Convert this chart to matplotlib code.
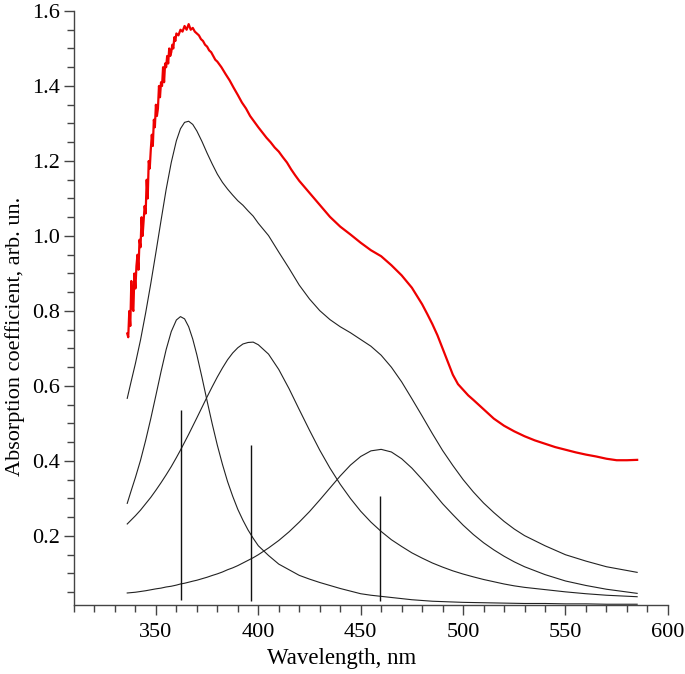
import numpy as np
import matplotlib
matplotlib.use("Agg")
import matplotlib.pyplot as plt
from matplotlib.ticker import MultipleLocator

# measured absorption spectrum (red)
red_nm = [336.0, 336.5, 337.0, 337.5, 338.0, 338.5, 339.0, 339.5, 340.0, 340.5,
          341.0, 341.5, 342.0, 342.5, 343.0, 343.5, 344.0, 344.5, 345.0, 345.5,
          346.0, 346.5, 347.0, 347.5, 348.0, 348.5, 349.0, 349.5, 350.0, 350.5,
          351.0, 351.5, 352.0, 352.5, 353.0, 353.5, 354.0, 354.5, 355.0, 355.5,
          356.0, 356.5, 357.0, 357.5, 358.0, 358.5, 359.0, 359.5, 360.0,
          361, 362, 363, 364, 365, 366, 367, 368, 369, 370,
          371, 372, 373, 374, 375, 376, 377, 378, 379, 380,
          382, 384, 386, 388, 390, 392, 394, 396, 398, 400,
          402, 404, 406, 408, 410, 412, 414, 416, 418, 420,
          425, 430, 435, 440, 445, 450, 455, 460, 465, 470,
          475, 480, 482.5, 485, 487.5, 490, 492.5, 495, 497.5, 500,
          502.5, 505, 510, 515, 520, 525, 530, 535, 540, 545,
          550, 555, 560, 565, 570, 575, 580, 585]
red_abs = [0.74, 0.73, 0.80, 0.76, 0.88, 0.81, 0.80, 0.90, 0.86, 0.92,
           0.95, 0.91, 0.99, 0.97, 1.05, 1.00, 1.04, 1.08, 1.06, 1.15,
           1.10, 1.20, 1.18, 1.23, 1.27, 1.24, 1.31, 1.29, 1.35, 1.32,
           1.34, 1.40, 1.37, 1.41, 1.40, 1.45, 1.41, 1.46, 1.45, 1.48,
           1.46, 1.50, 1.48, 1.49, 1.51, 1.50, 1.53, 1.52, 1.54,
           1.535, 1.55, 1.545, 1.56, 1.55, 1.565, 1.55, 1.555, 1.545, 1.54,
           1.535, 1.525, 1.52, 1.51, 1.505, 1.495, 1.49, 1.48, 1.47, 1.465,
           1.45, 1.432, 1.415, 1.395, 1.376, 1.356, 1.34, 1.32, 1.305, 1.29,
           1.276, 1.262, 1.25, 1.236, 1.225, 1.21, 1.196, 1.178, 1.162, 1.147,
           1.115, 1.083, 1.051, 1.025, 1.004, 0.982, 0.962, 0.946, 0.922, 0.895,
           0.862, 0.818, 0.792, 0.765, 0.735, 0.70, 0.665, 0.63, 0.605, 0.59,
           0.575, 0.563, 0.538, 0.513, 0.494, 0.479, 0.466, 0.455, 0.446, 0.437,
           0.430, 0.423, 0.417, 0.412, 0.406, 0.402, 0.402, 0.403]

# fitted components and their sum (black)
fit_nm = [336, 338, 340, 342.5, 345, 347.5, 350, 352.5, 355, 357.5,
          360, 362, 364, 366, 368, 370, 372.5, 375, 377.5, 380,
          382.5, 385, 387.5, 390, 392.5, 395, 397.5, 400, 405, 410,
          415, 420, 425, 430, 435, 440, 445, 450, 455, 460,
          465, 470, 475, 480, 485, 490, 495, 500, 505, 510,
          515, 520, 525, 530, 540, 550, 560, 570, 585]
band1 = [0.287, 0.322, 0.356, 0.402, 0.455, 0.513, 0.575, 0.638, 0.697, 0.745,
         0.776, 0.785, 0.779, 0.758, 0.725, 0.683, 0.623, 0.560, 0.499, 0.442,
         0.391, 0.345, 0.306, 0.271, 0.242, 0.216, 0.194, 0.174, 0.148, 0.125,
         0.110, 0.095, 0.085, 0.076, 0.068, 0.060, 0.053, 0.046, 0.042, 0.039,
         0.036, 0.033, 0.030, 0.028, 0.026, 0.025, 0.024, 0.023, 0.0225, 0.022,
         0.0215, 0.021, 0.0205, 0.020, 0.020, 0.019, 0.019, 0.018, 0.018]
band2 = [0.232, 0.243, 0.254, 0.269, 0.286, 0.303, 0.322, 0.342, 0.363, 0.385,
         0.409, 0.429, 0.450, 0.471, 0.493, 0.515, 0.543, 0.571, 0.598, 0.624,
         0.648, 0.670, 0.688, 0.702, 0.712, 0.716, 0.717, 0.710, 0.685, 0.644,
         0.593, 0.537, 0.482, 0.429, 0.381, 0.338, 0.300, 0.266, 0.237, 0.212,
         0.190, 0.172, 0.155, 0.141, 0.128, 0.117, 0.107, 0.0985, 0.091, 0.084,
         0.078, 0.072, 0.067, 0.063, 0.057, 0.051, 0.046, 0.042, 0.038]
band3 = [0.048, 0.049, 0.050, 0.052, 0.054, 0.0565, 0.059, 0.061, 0.064, 0.066,
         0.069, 0.072, 0.074, 0.0767, 0.0795, 0.082, 0.086, 0.090, 0.0947, 0.099,
         0.104, 0.110, 0.115, 0.121, 0.128, 0.135, 0.142, 0.150, 0.168, 0.188,
         0.211, 0.237, 0.265, 0.296, 0.328, 0.360, 0.389, 0.412, 0.427, 0.431,
         0.424, 0.406, 0.381, 0.351, 0.319, 0.286, 0.257, 0.229, 0.204, 0.182,
         0.163, 0.146, 0.131, 0.118, 0.097, 0.080, 0.068, 0.058, 0.047]
total = [0.567, 0.614, 0.660, 0.723, 0.795, 0.873, 0.956, 1.041, 1.124, 1.196,
         1.254, 1.286, 1.303, 1.306, 1.2975, 1.280, 1.252, 1.221, 1.192, 1.165,
         1.143, 1.125, 1.109, 1.094, 1.082, 1.067, 1.053, 1.034, 1.001, 0.957,
         0.914, 0.869, 0.832, 0.801, 0.777, 0.758, 0.742, 0.724, 0.706, 0.682,
         0.650, 0.611, 0.566, 0.520, 0.473, 0.428, 0.388, 0.3505, 0.3175, 0.288,
         0.2625, 0.239, 0.2185, 0.201, 0.174, 0.150, 0.133, 0.118, 0.103]

# band positions (vertical markers)
peak_nm = [362.2, 396.6, 459.3]
peak_top = [0.537, 0.443, 0.307]
peak_bottom = [0.030, 0.026, 0.027]

plt.rcParams['font.family'] = ['Liberation Serif', 'DejaVu Serif']

fig = plt.figure(figsize=(6.85, 6.74), dpi=100)
ax = fig.add_axes([0.108, 0.1024, 0.867, 0.8813])

ax.plot(red_nm, red_abs, color='#ee0000', lw=1.6)
for band in (total, band1, band2, band3):
    ax.plot(fit_nm, band, color='#222222', lw=0.8)
ax.vlines(peak_nm, peak_bottom, peak_top, color='#111111', lw=1.0)

ax.set_xlim(310, 600)
ax.set_ylim(0.016, 1.6)
ax.xaxis.set_major_locator(MultipleLocator(50))
ax.xaxis.set_minor_locator(MultipleLocator(10))
ax.yaxis.set_major_locator(MultipleLocator(0.2))
ax.yaxis.set_minor_locator(MultipleLocator(0.05))
ax.set_xticks([350, 400, 450, 500, 550, 600])
ax.set_yticks([0.2, 0.4, 0.6, 0.8, 1.0, 1.2, 1.4, 1.6])
ax.set_yticklabels(['0.2', '0.4', '0.6', '0.8', '1.0', '1.2', '1.4', '1.6'])

for side in ('top', 'right'):
    ax.spines[side].set_visible(False)
for side in ('left', 'bottom'):
    ax.spines[side].set_color('#444444')
    ax.spines[side].set_linewidth(1.0)

ax.tick_params(which='major', direction='out', length=7, width=1.0,
               color='#444444', labelsize=16)
ax.tick_params(axis='x', which='major', pad=6)
ax.tick_params(axis='y', which='major', pad=3)
ax.tick_params(which='minor', direction='out', length=5, width=1.0,
               color='#444444')

ax.set_xlabel('Wavelength, nm', fontsize=16.5)
ax.set_ylabel('Absorption coefficient, arb. un.', fontsize=16)
ax.xaxis.set_label_coords(0.451, -0.072)
ax.yaxis.set_label_coords(-0.083, 0.453)

fig.savefig('out.png', dpi=100)
